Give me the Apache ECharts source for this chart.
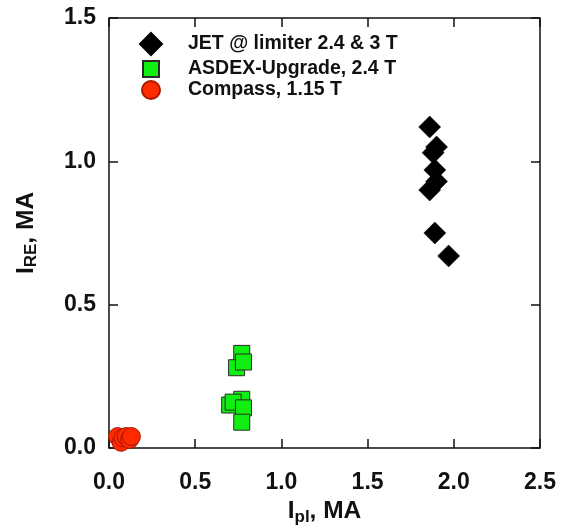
<!DOCTYPE html>
<html>
<head>
<meta charset="utf-8">
<script src="https://cdn.jsdelivr.net/npm/echarts@6/dist/echarts.min.js"></script>
<style>
  html, body { margin: 0; padding: 0; background: #fff; }
  #chart { width: 568px; height: 529px; }
</style>
</head>
<body>
<div id="chart"></div>
<script>
// Runaway electron current vs plasma current for three tokamaks
const seriesNames = ['JET @ limiter 2.4 & 3 T', 'ASDEX-Upgrade, 2.4 T', 'Compass, 1.15 T'];

// [Ipl (MA), IRE (MA)]
const jetPoints = [
  [1.86, 1.12], [1.90, 1.05], [1.88, 1.03], [1.89, 0.97],
  [1.90, 0.93], [1.86, 0.90], [1.89, 0.75], [1.97, 0.67]
];
const asdexPoints = [
  [0.77, 0.33], [0.74, 0.28], [0.78, 0.30],
  [0.77, 0.17], [0.70, 0.15], [0.72, 0.16], [0.78, 0.14], [0.77, 0.09]
];
const compassPoints = [
  [0.05, 0.04], [0.07, 0.02], [0.08, 0.035], [0.10, 0.04], [0.12, 0.03], [0.13, 0.04]
];

const xTicks = [0.0, 0.5, 1.0, 1.5, 2.0, 2.5];
const yTicks = [0.0, 0.5, 1.0, 1.5];

const FONT = '"Liberation Sans", Arial, sans-serif';
const INK = '#111';

const chart = echarts.init(document.getElementById('chart'), null, { renderer: 'canvas' });

const tickStyle = { show: true, inside: true, length: 9, lineStyle: { color: INK, width: 1.5 } };

// Tick-only copies of the axes on the top and right edges of the frame
function mirrorAxis(extra) {
  return Object.assign({
    type: 'value',
    min: 0,
    interval: 0.5,
    axisLine: { show: false, onZero: false },
    axisTick: tickStyle,
    axisLabel: { show: false },
    splitLine: { show: false }
  }, extra);
}

const labelStyle = {
  fontFamily: FONT, fontWeight: 'bold', fontSize: 23, color: INK, hideOverlap: false
};
const legendText = (pad) => ({
  fontFamily: FONT, fontWeight: 'bold', fontSize: 19.5, color: INK, padding: [0, 0, 0, pad]
});
// Axis titles with subscripted quantity names
const nameRich = {
  m: { fontFamily: FONT, fontWeight: 'bold', fontSize: 24.5, color: INK },
  s: { fontFamily: FONT, fontWeight: 'bold', fontSize: 17, color: INK, padding: [11, 0, 0, 0] }
};

chart.setOption({
  animation: false,
  backgroundColor: '#fff',
  grid: {
    left: 109, right: 28, top: 18, bottom: 81,
    outerBoundsMode: 'none',
    show: true, borderColor: INK, borderWidth: 1.5, backgroundColor: 'transparent'
  },
  legend: [
    { data: [seriesNames[0]], orient: 'vertical', left: 134, top: 27, itemWidth: 22, itemHeight: 22,
      textStyle: legendText(21), selectedMode: false },
    { data: [seriesNames[1]], orient: 'vertical', left: 137, top: 54, itemWidth: 16, itemHeight: 16,
      textStyle: legendText(24), selectedMode: false },
    { data: [seriesNames[2]], orient: 'vertical', left: 136, top: 75, itemWidth: 18, itemHeight: 18,
      textStyle: legendText(23), selectedMode: false }
  ],
  xAxis: [
    {
      type: 'value', position: 'bottom', min: 0, max: xTicks[xTicks.length - 1], interval: 0.5,
      axisLine: { show: false, onZero: false },
      axisTick: tickStyle,
      axisLabel: Object.assign({ margin: 23, formatter: v => v.toFixed(1) }, labelStyle),
      splitLine: { show: false },
      name: '{m|I}{s|pl}{m|, MA}',
      nameLocation: 'middle',
      nameGap: 48,
      nameTextStyle: { rich: nameRich }
    },
    mirrorAxis({ position: 'top', max: xTicks[xTicks.length - 1] })
  ],
  yAxis: [
    {
      type: 'value', position: 'left', min: 0, max: yTicks[yTicks.length - 1], interval: 0.5,
      axisLine: { show: false, onZero: false },
      axisTick: tickStyle,
      axisLabel: Object.assign({ margin: 13, formatter: v => v.toFixed(1) }, labelStyle),
      splitLine: { show: false },
      name: '{m|I}{s|RE}{m|, MA}',
      nameLocation: 'middle',
      nameRotate: 90,
      nameGap: 69,
      nameTextStyle: { rich: nameRich }
    },
    mirrorAxis({ position: 'right', max: yTicks[yTicks.length - 1] })
  ],
  series: [
    {
      name: seriesNames[0], type: 'scatter', data: jetPoints,
      symbol: 'diamond', symbolSize: 22,
      itemStyle: { color: '#000', borderColor: '#000', borderWidth: 0.5, opacity: 1 }
    },
    {
      name: seriesNames[1], type: 'scatter', data: asdexPoints,
      symbol: 'rect', symbolSize: 16,
      itemStyle: { color: '#11ee11', borderColor: '#2a2a2a', borderWidth: 1, opacity: 1 }
    },
    {
      name: seriesNames[2], type: 'scatter', data: compassPoints,
      symbol: 'circle', symbolSize: 18,
      itemStyle: { color: '#ff2a00', borderColor: '#a81800', borderWidth: 1, opacity: 1 }
    }
  ]
});
</script>
</body>
</html>
